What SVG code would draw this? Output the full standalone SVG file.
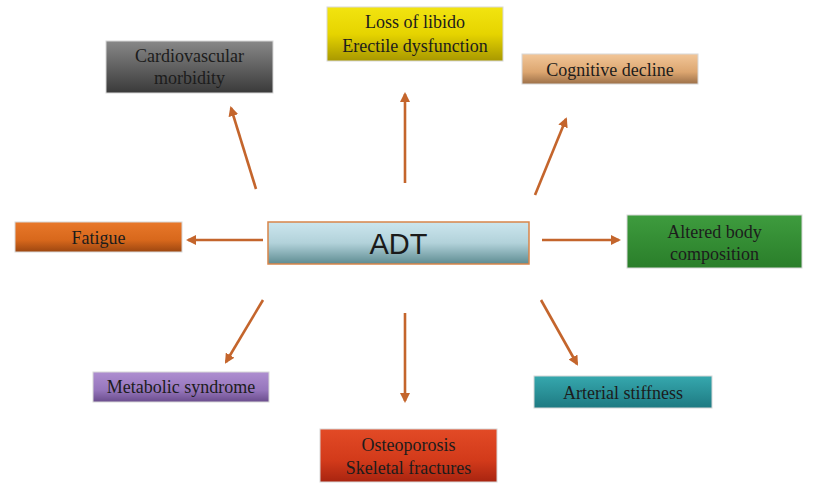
<svg xmlns="http://www.w3.org/2000/svg" width="814" height="487" viewBox="0 0 814 487">
<style>
.lbl{font-family:"Liberation Serif","Times New Roman",serif;font-size:18px;text-anchor:middle;fill:#1c1c1c}
.ar{stroke:#c4652c;stroke-width:2.6;fill:none;marker-end:url(#ah)}
.bx{stroke:#d8d8d8;stroke-width:1}
</style>
<defs>
<marker id="ah" markerWidth="10" markerHeight="10" refX="8" refY="5" orient="auto" markerUnits="userSpaceOnUse" viewBox="0 0 10 10">
<path d="M0,0 L10,5 L0,10 z" fill="#c4652c"/>
</marker>
<linearGradient id="gGray" x1="0" y1="0" x2="0" y2="1"><stop offset="0" stop-color="#888888"/><stop offset="1" stop-color="#3a3a3a"/></linearGradient>
<linearGradient id="gYel" x1="0" y1="0" x2="0" y2="1"><stop offset="0" stop-color="#f2e410"/><stop offset="0.5" stop-color="#e6d400"/><stop offset="1" stop-color="#a89800"/></linearGradient>
<linearGradient id="gTan" x1="0" y1="0" x2="0" y2="1"><stop offset="0" stop-color="#f2c698"/><stop offset="0.6" stop-color="#dca670"/><stop offset="1" stop-color="#9c7048"/></linearGradient>
<linearGradient id="gAdt" x1="0" y1="0" x2="0" y2="1"><stop offset="0" stop-color="#cce6ee"/><stop offset="0.5" stop-color="#b2d2da"/><stop offset="1" stop-color="#5e8c92"/></linearGradient>
<linearGradient id="gOr" x1="0" y1="0" x2="0" y2="1"><stop offset="0" stop-color="#e8782a"/><stop offset="0.6" stop-color="#d8681c"/><stop offset="1" stop-color="#9c4610"/></linearGradient>
<linearGradient id="gGr" x1="0" y1="0" x2="0" y2="1"><stop offset="0" stop-color="#3e9c3e"/><stop offset="1" stop-color="#2a7e2a"/></linearGradient>
<linearGradient id="gPu" x1="0" y1="0" x2="0" y2="1"><stop offset="0" stop-color="#ae8ed0"/><stop offset="0.6" stop-color="#9676bc"/><stop offset="1" stop-color="#6a4c8c"/></linearGradient>
<linearGradient id="gTe" x1="0" y1="0" x2="0" y2="1"><stop offset="0" stop-color="#36a8ae"/><stop offset="1" stop-color="#1e7a82"/></linearGradient>
<linearGradient id="gRe" x1="0" y1="0" x2="0" y2="1"><stop offset="0" stop-color="#e24a26"/><stop offset="0.6" stop-color="#d23a1a"/><stop offset="1" stop-color="#a82410"/></linearGradient>
</defs>
<rect width="814" height="487" fill="#ffffff"/>
<g id="connectors">
<line class="ar" x1="256" y1="189" x2="231" y2="108"/>
<line class="ar" x1="405" y1="183" x2="405" y2="94"/>
<line class="ar" x1="535" y1="195" x2="566" y2="119"/>
<line class="ar" x1="263" y1="240" x2="188" y2="240"/>
<line class="ar" x1="542" y1="240" x2="619" y2="240"/>
<line class="ar" x1="263" y1="300" x2="226" y2="362"/>
<line class="ar" x1="405" y1="313" x2="405" y2="401"/>
<line class="ar" x1="541" y1="300" x2="577" y2="364"/>
</g>
<g id="adt">
<rect x="268" y="222" width="261" height="42" fill="url(#gAdt)" stroke="#d8854a" stroke-width="1.5"/>
<text x="398.5" y="254" font-family="Liberation Sans, Arial, sans-serif" font-size="29" text-anchor="middle" fill="#1a1a1a">ADT</text>
</g>
<g id="cardio">
<rect class="bx" x="106" y="41" width="167" height="52" fill="url(#gGray)"/>
<text class="lbl" x="189.5" y="62">Cardiovascular</text>
<text class="lbl" x="189.5" y="84">morbidity</text>
</g>
<g id="libido">
<rect class="bx" x="327" y="7" width="176" height="54" fill="url(#gYel)"/>
<text class="lbl" x="415" y="28">Loss of libido</text>
<text class="lbl" x="415" y="52">Erectile dysfunction</text>
</g>
<g id="cognitive">
<rect class="bx" x="522" y="54" width="176" height="30" fill="url(#gTan)"/>
<text class="lbl" x="610" y="76" fill="#3a2410">Cognitive decline</text>
</g>
<g id="fatigue">
<rect class="bx" x="15" y="222" width="167" height="30" fill="url(#gOr)"/>
<text class="lbl" x="98.5" y="244" fill="#4a2008">Fatigue</text>
</g>
<g id="altered">
<rect class="bx" x="627" y="215" width="175" height="53" fill="url(#gGr)"/>
<text class="lbl" x="714.5" y="238" fill="#0e2a0e">Altered body</text>
<text class="lbl" x="714.5" y="260" fill="#0e2a0e">composition</text>
</g>
<g id="metabolic">
<rect class="bx" x="93" y="372" width="176" height="30" fill="url(#gPu)"/>
<text class="lbl" x="181" y="393" fill="#24143a">Metabolic syndrome</text>
</g>
<g id="arterial">
<rect class="bx" x="534" y="376" width="178" height="32" fill="url(#gTe)"/>
<text class="lbl" x="623" y="399" fill="#0c2a2e">Arterial stiffness</text>
</g>
<g id="osteo">
<rect class="bx" x="320" y="429" width="177" height="53" fill="url(#gRe)"/>
<text class="lbl" x="408.5" y="451" fill="#3a0c04">Osteoporosis</text>
<text class="lbl" x="408.5" y="474" fill="#3a0c04">Skeletal fractures</text>
</g>
</svg>
